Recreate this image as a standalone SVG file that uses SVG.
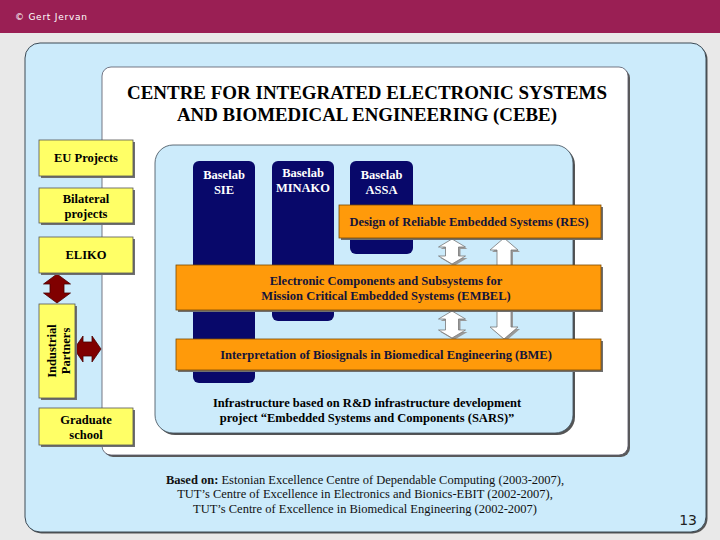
<svg xmlns="http://www.w3.org/2000/svg" width="720" height="540" viewBox="0 0 720 540">
<style>
.tb{font-family:"Liberation Serif","Times New Roman",serif;font-weight:bold;}
.tr{font-family:"Liberation Serif","Times New Roman",serif;}
.sh{fill:#6f6f6f;}
.yel{fill:#FFFF66;stroke:#555;stroke-width:0.8;}
.navy{fill:#08086A;}
.org{fill:#FF9A0A;stroke:#7a4a00;stroke-width:0.8;}
.wt{fill:#fff;font-size:12.5px;}
.dk{fill:#14143a;font-size:12.5px;}
.bk{fill:#000;font-size:12.5px;}
.marr{fill:#800000;stroke:#4a0000;stroke-width:0.8;}
.warr{fill:#fff;stroke:#777;stroke-width:0.8;}
.wsh{fill:#999;}
</style>
<rect x="0" y="0" width="720" height="540" fill="#E9E9E9"/>
<rect x="0" y="0" width="720" height="33" fill="#9A1F54"/>
<text x="15" y="20" font-family="DejaVu Sans,Verdana,sans-serif" font-size="9" fill="#fff" textLength="72" lengthAdjust="spacing">© Gert Jervan</text>

<g id="outer-panel">
<rect x="26.5" y="44.5" width="681" height="489" rx="15" fill="#555"/>
<rect x="25" y="43" width="681" height="489" rx="15" fill="#CCEBFB" stroke="#3c4a55" stroke-width="1"/>
<text x="697" y="525" font-family="DejaVu Sans,Verdana,sans-serif" font-size="14" fill="#222" text-anchor="end">13</text>
</g>

<g id="white-panel">
<rect x="104" y="69" width="526" height="388" rx="9" fill="#5a5a5a"/>
<rect x="102" y="67" width="526" height="388" rx="9" fill="#fff" stroke="#556" stroke-width="0.8"/>
<text class="tb" x="367" y="99" font-size="19" text-anchor="middle" textLength="480" lengthAdjust="spacingAndGlyphs">CENTRE FOR INTEGRATED ELECTRONIC SYSTEMS</text>
<text class="tb" x="367" y="121" font-size="19" text-anchor="middle" textLength="380" lengthAdjust="spacingAndGlyphs">AND BIOMEDICAL ENGINEERING (CEBE)</text>
</g>

<g id="center-panel">
<rect x="157" y="147" width="418" height="288" rx="18" fill="#555"/>
<rect x="155" y="145" width="418" height="288" rx="18" fill="#CCEBFB" stroke="#3c4a55" stroke-width="0.8"/>
<text class="tb bk" x="367" y="407" text-anchor="middle">Infrastructure based on R&amp;D infrastructure development</text>
<text class="tb bk" x="367" y="422" text-anchor="middle">project “Embedded Systems and Components (SARS)”</text>
</g>

<g id="baselab-sie">
<rect class="navy" x="193" y="161" width="62" height="222" rx="6"/>
<text class="tb wt" x="224" y="179" text-anchor="middle">Baselab</text>
<text class="tb wt" x="224" y="194" text-anchor="middle">SIE</text>
</g>
<g id="baselab-minako">
<rect class="navy" x="272" y="161" width="62" height="160" rx="6"/>
<text class="tb wt" x="303" y="177" text-anchor="middle">Baselab</text>
<text class="tb wt" x="303" y="192" text-anchor="middle">MINAKO</text>
</g>
<g id="baselab-assa">
<rect class="navy" x="350" y="161" width="63" height="93" rx="6"/>
<text class="tb wt" x="381.5" y="179" text-anchor="middle">Baselab</text>
<text class="tb wt" x="381.5" y="194" text-anchor="middle">ASSA</text>
</g>

<g id="connectors">
<path class="wsh" d="M506,240 L520,252 L513,252 L513,329 L520,329 L506,341 L492,329 L499,329 L499,252 L492,252 Z"/>
<path class="warr" d="M504,238 L518,250 L511,250 L511,327 L518,327 L504,339 L490,327 L497,327 L497,250 L490,250 Z"/>
<path class="wsh" d="M454,241 L467.5,249 L460.5,249 L460.5,258 L467.5,258 L454,266 L440.5,258 L447.5,258 L447.5,249 L440.5,249 Z"/>
<path class="warr" d="M452,239 L465.5,247 L458.5,247 L458.5,256 L465.5,256 L452,264 L438.5,256 L445.5,256 L445.5,247 L438.5,247 Z"/>
<path class="wsh" d="M454,313 L467.5,321 L460.5,321 L460.5,332 L467.5,332 L454,340 L440.5,332 L447.5,332 L447.5,321 L440.5,321 Z"/>
<path class="warr" d="M452,311 L465.5,319 L458.5,319 L458.5,330 L465.5,330 L452,338 L438.5,330 L445.5,330 L445.5,319 L438.5,319 Z"/>
<path class="marr" d="M57,274 L70.5,284 L64,284 L64,293 L70.5,293 L57,303 L43.5,293 L50,293 L50,284 L43.5,284 Z"/>
<path class="marr" d="M74,349 L83,336 L83,342 L92,342 L92,336 L101,349 L92,362 L92,356 L83,356 L83,362 Z"/>
</g>

<g id="res">
<rect class="sh" x="341" y="207" width="262" height="33"/>
<rect class="org" x="339" y="205" width="262" height="33"/>
<text class="tb dk" x="469" y="226" text-anchor="middle">Design of Reliable Embedded Systems (RES)</text>
</g>
<g id="embel">
<rect class="sh" x="178" y="267" width="425" height="45"/>
<rect class="org" x="176" y="265" width="425" height="45"/>
<text class="tb dk" x="386" y="285" text-anchor="middle">Electronic Components and Subsystems for</text>
<text class="tb dk" x="386" y="300" text-anchor="middle">Mission Critical Embedded Systems (EMBEL)</text>
</g>
<g id="bme">
<rect class="sh" x="178" y="341" width="425" height="31"/>
<rect class="org" x="176" y="339" width="425" height="31"/>
<text class="tb dk" x="386" y="359" text-anchor="middle">Interpretation of Biosignals in Biomedical Engineering (BME)</text>
</g>

<g id="eu-projects">
<rect class="sh" x="41" y="142" width="94" height="36"/>
<rect class="yel" x="39" y="140" width="94" height="36"/>
<text class="tb bk" x="86" y="162" font-size="13" text-anchor="middle">EU Projects</text>
</g>
<g id="bilateral">
<rect class="sh" x="41" y="190" width="94" height="35"/>
<rect class="yel" x="39" y="188" width="94" height="35"/>
<text class="tb bk" x="86" y="203" font-size="13" text-anchor="middle">Bilateral</text>
<text class="tb bk" x="86" y="218" font-size="13" text-anchor="middle">projects</text>
</g>
<g id="eliko">
<rect class="sh" x="41" y="239" width="94" height="36"/>
<rect class="yel" x="39" y="237" width="94" height="36"/>
<text class="tb bk" x="86" y="259" font-size="13" text-anchor="middle">ELIKO</text>
</g>
<g id="industrial-partners">
<rect class="sh" x="41" y="306" width="36" height="94"/>
<rect class="yel" x="39" y="304" width="36" height="94"/>
<text class="tb bk" font-size="13" text-anchor="middle" transform="translate(56,351) rotate(-90)">Industrial</text>
<text class="tb bk" font-size="13" text-anchor="middle" transform="translate(70,351) rotate(-90)">Partners</text>
</g>
<g id="graduate-school">
<rect class="sh" x="41" y="410" width="94" height="37"/>
<rect class="yel" x="39" y="408" width="94" height="37"/>
<text class="tb bk" x="86" y="424" font-size="13" text-anchor="middle">Graduate</text>
<text class="tb bk" x="86" y="439" font-size="13" text-anchor="middle">school</text>
</g>

<g id="based-on">
<text class="tr" x="365" y="484" font-size="12.5" fill="#111" text-anchor="middle"><tspan font-weight="bold">Based on:</tspan>  Estonian Excellence Centre of Dependable Computing (2003-2007),</text>
<text class="tr" x="365" y="498" font-size="12.5" fill="#111" text-anchor="middle">TUT’s Centre of Excellence in Electronics and Bionics-EBIT (2002-2007),</text>
<text class="tr" x="365" y="513" font-size="12.5" fill="#111" text-anchor="middle">TUT’s Centre of Excellence in Biomedical Engineering (2002-2007)</text>
</g>
</svg>
